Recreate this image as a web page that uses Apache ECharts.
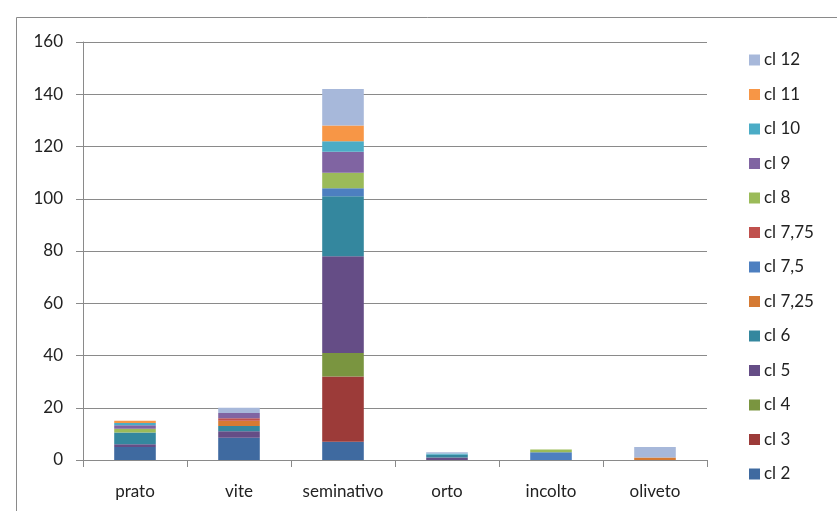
<!DOCTYPE html>
<html><head><meta charset="utf-8">
<script src="https://cdn.jsdelivr.net/npm/echarts@6/dist/echarts.min.js"></script>
<style>html,body{margin:0;padding:0;background:#fff}#c{width:837px;height:511px}</style>
</head><body><div id="c"></div>
<script>
const categories = ['prato', 'vite', 'seminativo', 'orto', 'incolto', 'oliveto'];
const yTicks = [0, 20, 40, 60, 80, 100, 120, 140, 160];
const seriesNames = ['cl 2', 'cl 3', 'cl 4', 'cl 5', 'cl 6', 'cl 7,25', 'cl 7,5', 'cl 7,75', 'cl 8', 'cl 9', 'cl 10', 'cl 11', 'cl 12'];
const cl2   = [5,   8.5, 7,  0,   0,   0];
const cl3   = [0,   0,   25, 0,   0,   0];
const cl4   = [0,   0,   9,  0,   0,   0];
const cl5   = [1,   2.5, 37, 1,   0,   0];
const cl6   = [4.5, 2,   23, 1,   0,   0];
const cl725 = [0,   2,   0,  0,   0,   1];
const cl75  = [0,   0,   3,  0,   3,   0];
const cl775 = [0,   1,   0,  0,   0,   0];
const cl8   = [1.5, 0,   6,  0,   1,   0];
const cl9   = [1.3, 2,   8,  0,   0,   0];
const cl10  = [0.9, 0,   4,  0.5, 0,   0];
const cl11  = [0.8, 0,   6,  0,   0,   0];
const cl12  = [0,   2,   14, 0.5, 0,   4];
const values = [cl2, cl3, cl4, cl5, cl6, cl725, cl75, cl775, cl8, cl9, cl10, cl11, cl12];
const colors = ['#3F6AA0', '#9C3B39', '#7A9540', '#654D86', '#34879E', '#D57A33', '#4D7FC0', '#C0504D', '#9BBB59', '#8064A2', '#4BACC6', '#F79646', '#A7B8DA'];

const FONT = 'Lato';
const chart = echarts.init(document.getElementById('c'), null, {renderer: 'canvas'});
chart.setOption({
  animation: false,
  color: colors,
  textStyle: {fontFamily: FONT},
  grid: {left: 83, right: 130, top: 42, bottom: 51, containLabel: false},
  graphic: [{
    type: 'rect', left: 14, top: 15, silent: true,
    shape: {x: 0, y: 0, width: 840, height: 520},
    style: {fill: 'none', stroke: '#8a8a8a', lineWidth: 1}
  }],
  legend: {
    orient: 'vertical', left: 744, top: 45,
    data: seriesNames.slice().reverse(),
    icon: 'rect', itemWidth: 11, itemHeight: 11, itemGap: 14.5,
    textStyle: {fontFamily: FONT, fontSize: 17, color: '#222', lineHeight: 20, padding: [0, 0, 0, -1]}
  },
  xAxis: {
    type: 'category', data: categories,
    axisLine: {lineStyle: {color: '#8a8a8a', width: 1}},
    axisTick: {show: true, length: 7, alignWithLabel: false, interval: 0, lineStyle: {color: '#8a8a8a'}},
    axisLabel: {fontFamily: FONT, fontSize: 17, color: '#222', margin: 23, interval: 0}
  },
  yAxis: {
    type: 'value', min: yTicks[0], max: yTicks[yTicks.length - 1], interval: 20,
    axisLine: {show: true, lineStyle: {color: '#8a8a8a'}},
    axisTick: {show: true, length: 7, lineStyle: {color: '#8a8a8a'}},
    splitLine: {lineStyle: {color: '#8a8a8a', width: 1}},
    axisLabel: {fontFamily: FONT, fontSize: 17, color: '#222', margin: 20}
  },
  series: seriesNames.map((n, i) => ({
    name: n, type: 'bar', stack: 'a', data: values[i],
    barWidth: '40%',
    itemStyle: {color: colors[i]}
  }))
});
</script></body></html>
